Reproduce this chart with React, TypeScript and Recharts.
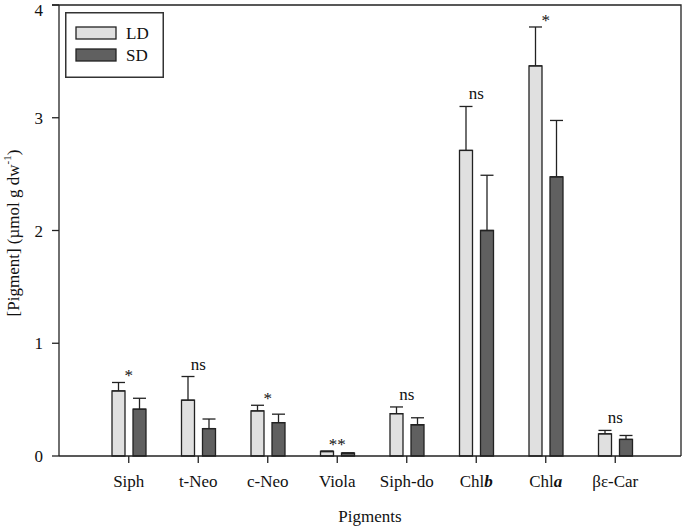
import { BarChart, Bar, XAxis, YAxis, ErrorBar, ReferenceDot } from 'recharts'

const pigments = ['Siph', 't-Neo', 'c-Neo', 'Viola', 'Siph-do', 'Chlb', 'Chla', 'βε-Car']
const ldValues = [0.577, 0.495, 0.4, 0.04, 0.375, 2.71, 3.46, 0.197]
const ldErrors = [0.075, 0.21, 0.05, 0.004, 0.06, 0.39, 0.345, 0.03]
const sdValues = [0.415, 0.243, 0.296, 0.025, 0.277, 2.0, 2.476, 0.147]
const sdErrors = [0.097, 0.085, 0.075, 0.003, 0.062, 0.49, 0.5, 0.035]
const significance = ['*', 'ns', '*', '**', 'ns', 'ns', '*', 'ns']
const seriesNames = ['LD', 'SD']
const yTicks = [0, 1, 2, 3, 4]

const FONT = '"Liberation Serif", "Times New Roman", serif'
const INK = '#222'
const FILLS = ['#e0e0e0', '#606060']

const data = pigments.map((p, i) => ({
  name: p,
  LD: ldValues[i],
  SD: sdValues[i],
  ldErr: [0, ldErrors[i]],
  sdErr: [0, sdErrors[i]],
}))

function PigmentTick({ x, y, payload }: any) {
  const m = /^Chl(.)$/.exec(payload.value)
  return (
    <text x={x} y={y} dy="0.71em" textAnchor="middle" fontFamily={FONT} fontSize={17} fill="#111">
      {m ? (
        <>
          <tspan>Chl</tspan>
          <tspan fontWeight="bold" fontStyle="italic">{m[1]}</tspan>
        </>
      ) : (
        payload.value
      )}
    </text>
  )
}

function YTitle() {
  return (
    <text
      x={13}
      y={233}
      transform="rotate(-90, 13, 233)"
      textAnchor="middle"
      dominantBaseline="central"
      fontFamily={FONT}
      fontSize={17}
      fill="#111"
    >
      [Pigment] (µmol g dw
      <tspan baselineShift="super" fontSize={11}>-1</tspan>)
    </text>
  )
}

function XTitle() {
  return (
    <text x={370} y={522} textAnchor="middle" fontFamily={FONT} fontSize={17} fill="#111">
      Pigments
    </text>
  )
}

// frame (top + right edge) and legend drawn as one overlay so they don't eat into the plot area
function Overlay() {
  return (
    <svg width={685} height={527} style={{ position: 'absolute', left: 0, top: 0, pointerEvents: 'none' }}>
      <path d="M52 5 H681 V456" fill="none" stroke={INK} strokeWidth={1.3} />
      <g transform="translate(65, 12)">
        <rect x={0.75} y={0.75} width={97.5} height={64.5} fill="#fff" stroke="#333" strokeWidth={1.5} />
        {seriesNames.map((s, i) => (
          <g key={s}>
            <rect x={11} y={15 + i * 22} width={40} height={12} fill={FILLS[i]} stroke={INK} strokeWidth={1.3} />
            <text x={61} y={27 + i * 22} fontFamily={FONT} fontSize={17} fill="#111">{s}</text>
          </g>
        ))}
      </g>
    </svg>
  )
}

function SigLabel({ viewBox, value }: any) {
  const lift = value.includes('*') ? 1 : 7
  return (
    <text x={viewBox.x} y={viewBox.y - lift} textAnchor="middle" fontFamily={FONT} fontSize={17} fill="#111">
      {value}
    </text>
  )
}

export default function App() {
  return (
    <div style={{ position: 'absolute', left: 0, top: 0, width: 685, height: 527 }}>
      <BarChart
        width={685}
        height={527}
        data={data}
        margin={{ top: 5, right: 4, bottom: 0, left: 0 }}
        barGap={8}
        barSize={13}
      >
        <XAxis
          dataKey="name"
          height={71}
          padding={{ left: 35, right: 31 }}
          tickSize={7}
          tickMargin={12}
          tick={<PigmentTick />}
          stroke={INK}
          strokeWidth={1.3}
          tickLine={{ stroke: INK, strokeWidth: 1.3 }}
          label={<XTitle />}
        />
        <YAxis
          domain={[0, 4]}
          ticks={yTicks}
          width={59}
          tickSize={7}
          tickMargin={9}
          stroke={INK}
          strokeWidth={1.3}
          tick={{ fontFamily: FONT, fontSize: 17, fill: '#111' }}
          label={<YTitle />}
        />
        <Bar dataKey="LD" fill={FILLS[0]} stroke={INK} strokeWidth={1.3} isAnimationActive={false}>
          <ErrorBar dataKey="ldErr" direction="y" width={6.5} stroke={INK} strokeWidth={1.3} isAnimationActive={false} />
        </Bar>
        <Bar dataKey="SD" fill={FILLS[1]} stroke={INK} strokeWidth={1.3} isAnimationActive={false}>
          <ErrorBar dataKey="sdErr" direction="y" width={6.5} stroke={INK} strokeWidth={1.3} isAnimationActive={false} />
        </Bar>
        {pigments.map((p, i) => (
          <ReferenceDot
            key={p}
            x={p}
            y={ldValues[i] + ldErrors[i]}
            r={0}
            fill="none"
            stroke="none"
            label={<SigLabel value={significance[i]} />}
          />
        ))}
      </BarChart>
      <Overlay />
    </div>
  )
}
